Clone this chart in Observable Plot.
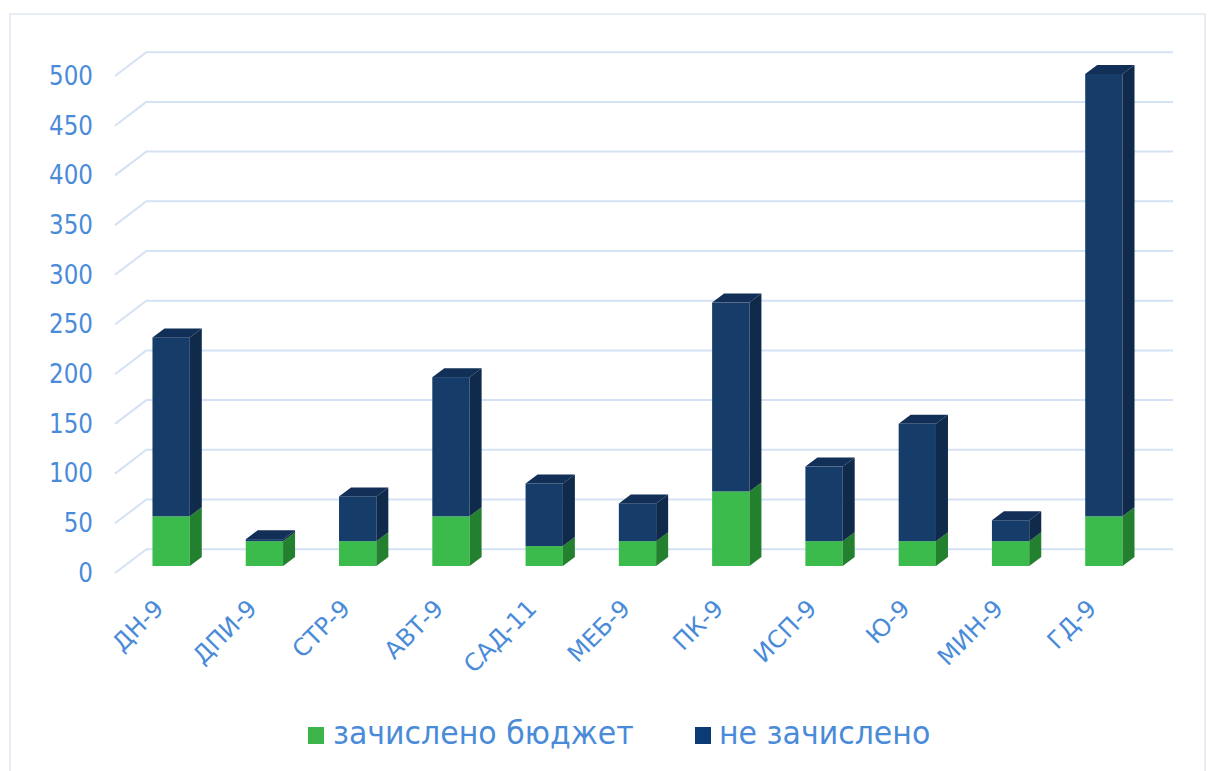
<!DOCTYPE html>
<html>
<head>
<meta charset="utf-8">
<script src="https://cdn.jsdelivr.net/npm/d3@7"></script>
<script src="https://cdn.jsdelivr.net/npm/@observablehq/plot@0.6"></script>
<style>
  html, body { margin: 0; padding: 0; background: #ffffff; }
  #wrap { position: relative; width: 1216px; height: 771px; overflow: hidden; background: #fff; font-family: "DejaVu Sans", Verdana, sans-serif; }
  #frame { position: absolute; left: 9px; top: 13px; width: 1197px; height: 800px; border: 2px solid #e8ecf4; box-sizing: border-box; }
  #chart { position: absolute; left: 0; top: 0; }
  .lg-sq { position: absolute; width: 16px; height: 17px; }
  .lg-tx { position: absolute; font-size: 30px; line-height: 30px; color: #4a8bd9; white-space: nowrap; transform-origin: 0 50%; transform: scale(1, 1.05); }
</style>
</head>
<body>
<div id="wrap">
  <div id="frame"></div>
  <div id="chart"></div>
  <div id="legend"></div>
</div>
<script>
// ---- data ----
const categories = ["ДН-9", "ДПИ-9", "СТР-9", "АВТ-9", "САД-11", "МЕБ-9", "ПК-9", "ИСП-9", "Ю-9", "МИН-9", "ГД-9"];
const budget     = [50, 25, 25, 50, 20, 25, 75, 25, 25, 25, 50];     // зачислено бюджет
const notBudget  = [180, 2, 45, 140, 63, 38, 190, 75, 118, 21, 445]; // не зачислено
const seriesNames = ["зачислено бюджет", "не зачислено"];
const yTicks = [0, 50, 100, 150, 200, 250, 300, 350, 400, 450, 500];

// ---- styles ----
const textColor = "#4a8bd9";
const frontColors = ["#3bbb4b", "#163c6a"];
const sideColors  = ["#23802f", "#0f2a4a"];
const topColors   = ["#2a9a3a", "#112f57"];
const legendColors = ["#3bb54a", "#0b3a76"];
const gridColor = "#d5e1f5";
const DX = 12, DY = 9;                // bar depth (px)
const WALL_DX = 22.5, WALL_DY = 17.3; // back wall offset
const FLOOR_DX = 9.5, FLOOR_DY = 7;   // front edge offset
const STRETCH = 1.13;                 // vertical text stretch

// table built from arrays
const rows = categories.flatMap((c, i) => [
  {cat: c, series: seriesNames[0], s: 0, y1: 0, y2: budget[i]},
  {cat: c, series: seriesNames[1], s: 1, y1: budget[i], y2: budget[i] + notBudget[i]}
]);

const NS = "http://www.w3.org/2000/svg";
function poly(points, fill) {
  const p = document.createElementNS(NS, "polygon");
  p.setAttribute("points", points.map(q => q.join(",")).join(" "));
  p.setAttribute("fill", fill);
  return p;
}

const chart = Plot.plot({
  width: 1216,
  height: 700,
  marginLeft: 124.5,
  marginRight: 65.5,
  marginTop: 69,
  marginBottom: 134,
  style: {fontFamily: "'DejaVu Sans', Verdana, sans-serif", fontSize: "23px", color: textColor, background: "transparent", overflow: "visible"},
  x: {type: "band", domain: categories, paddingInner: 0.6, paddingOuter: 0.3, round: false, axis: null},
  y: {domain: [0, 500], axis: null},
  color: {domain: seriesNames, range: frontColors},
  marks: [
    // back wall gridlines
    Plot.ruleY(yTicks, {stroke: gridColor, strokeWidth: 2, dx: WALL_DX, dy: -WALL_DY}),
    // side-wall diagonal gridline segments
    Plot.ruleY(yTicks, {
      render(index, scales, values, dims) {
        const g = document.createElementNS(NS, "g");
        for (const i of index) {
          const y = values.y[i];
          const l = document.createElementNS(NS, "line");
          l.setAttribute("x1", dims.marginLeft - FLOOR_DX);
          l.setAttribute("y1", y + FLOOR_DY);
          l.setAttribute("x2", dims.marginLeft + WALL_DX);
          l.setAttribute("y2", y - WALL_DY);
          l.setAttribute("stroke", gridColor);
          l.setAttribute("stroke-width", 2);
          g.appendChild(l);
        }
        return g;
      }
    }),
    // y axis labels
    Plot.axisY({ticks: yTicks, tickSize: 0, tickPadding: 32, dy: FLOOR_DY, label: null, fontSize: 23, fill: textColor}),
    // 3D stacked bars
    Plot.barY(rows, {
      x: "cat", y1: "y1", y2: "y2", fill: "series",
      render(index, scales, values, dims, context, next) {
        const g = next(index, scales, values, dims, context);
        const bw = typeof scales.x.bandwidth === "function" ? scales.x.bandwidth() : scales.x.bandwidth;
        const extra = document.createElementNS(NS, "g");
        for (const i of index) {
          const s = rows[i].s;
          const x0 = values.x[i], x1 = x0 + bw;
          const ya = values.y1[i], yb = values.y2[i];
          extra.appendChild(poly([[x1, ya], [x1 + DX, ya - DY], [x1 + DX, yb - DY], [x1, yb]], sideColors[s]));
          if (s === 1) {
            extra.appendChild(poly([[x0, yb], [x0 + DX, yb - DY], [x1 + DX, yb - DY], [x1, yb]], topColors[s]));
          }
        }
        g.appendChild(extra);
        return g;
      }
    }),
    // x labels
    Plot.text(categories, {
      x: d => d, y: () => 0, text: d => d,
      rotate: -45, textAnchor: "end", lineAnchor: "middle",
      dx: -12, dy: 38, fontSize: 24, fill: textColor,
      ariaLabel: "x-labels"
    })
  ]
});

// vertical stretch of the text to match the reference's aspect
chart.querySelectorAll('g[aria-label="y-axis tick label"] text').forEach(t => {
  const tr = t.getAttribute("transform");
  if (tr) t.setAttribute("transform", tr + ` scale(1,${STRETCH})`);
});
chart.querySelectorAll('g[aria-label="x-labels"] text').forEach(t => {
  const tr = t.getAttribute("transform");
  if (tr) t.setAttribute("transform", tr.replace(" rotate(", ` scale(1,${STRETCH}) rotate(`));
});
document.getElementById("chart").appendChild(chart);

// legend (HTML below the plot)
const legend = document.getElementById("legend");
const legendPos = [{sq: 308, tx: 333}, {sq: 695, tx: 719}];
seriesNames.forEach((name, i) => {
  const sq = document.createElement("div");
  sq.className = "lg-sq";
  sq.style.left = legendPos[i].sq + "px";
  sq.style.top = "727px";
  sq.style.background = legendColors[i];
  legend.appendChild(sq);
  const tx = document.createElement("div");
  tx.className = "lg-tx";
  tx.style.left = legendPos[i].tx + "px";
  tx.style.top = "719px";
  tx.textContent = name;
  legend.appendChild(tx);
});
</script>
</body>
</html>
